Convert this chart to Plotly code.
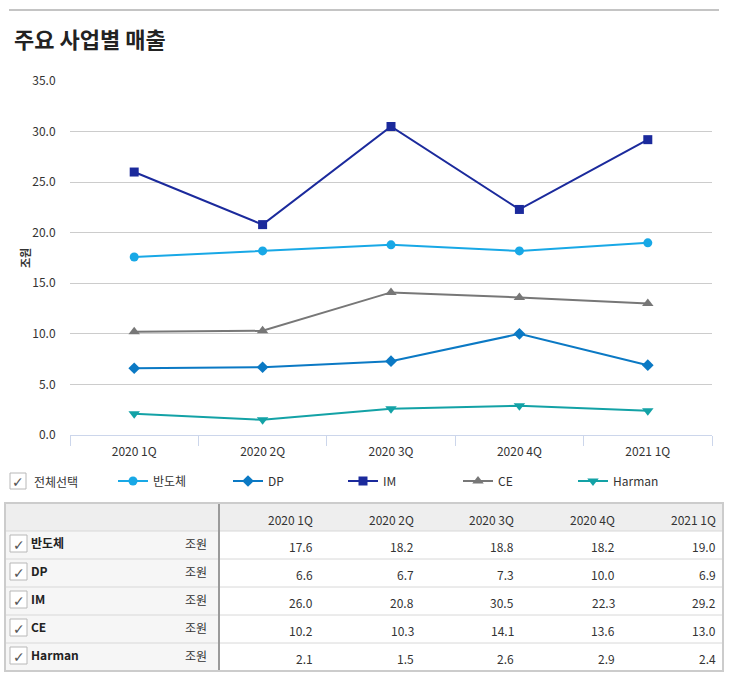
import plotly.graph_objects as go

# ---------------- data ----------------
title_text = "주요 사업별 매출"
quarters = ["2020 1Q", "2020 2Q", "2020 3Q", "2020 4Q", "2021 1Q"]
series_names = ["반도체", "DP", "IM", "CE", "Harman"]
semi = [17.6, 18.2, 18.8, 18.2, 19.0]
dp = [6.6, 6.7, 7.3, 10.0, 6.9]
im = [26.0, 20.8, 30.5, 22.3, 29.2]
ce = [10.2, 10.3, 14.1, 13.6, 13.0]
harman = [2.1, 1.5, 2.6, 2.9, 2.4]
unit = "조원"
select_all = "전체선택"
y_ticks = [0, 5, 10, 15, 20, 25, 30, 35]

series_values = [semi, dp, im, ce, harman]
colors = ["#18a8e6", "#0b79c4", "#1b2a9c", "#777777", "#13a2a6"]
symbols = ["circle", "diamond", "square", "triangle-up", "triangle-down"]
msizes = [9, 9, 9, 10, 10]

W, H = 735, 680
FONT = "Noto Sans CJK KR, Noto Sans, sans-serif"


def px(x):
    return x / W


def py(y):
    return 1 - y / H


fig = go.Figure()
for name, vals, c, s, ms in zip(series_names, series_values, colors, symbols, msizes):
    fig.add_trace(go.Scatter(
        x=quarters, y=vals, name=name, mode="lines+markers",
        line=dict(color=c, width=2),
        marker=dict(color=c, symbol=s, size=ms),
        cliponaxis=False,
    ))

shapes = []
annotations = []

# top rule
shapes.append(dict(type="line", xref="paper", yref="paper",
                   x0=px(9), x1=px(719), y0=py(10), y1=py(10),
                   line=dict(color="#c4c4c4", width=2)))

# title
annotations.append(dict(text="<b>" + title_text + "</b>", xref="paper", yref="paper",
                        x=px(12), y=py(38), xanchor="left", yanchor="middle",
                        showarrow=False, font=dict(size=22, color="#222", family=FONT)))

# y axis title
annotations.append(dict(text="<b>" + unit + "</b>", xref="paper", yref="paper",
                        x=px(25), y=py(258), xanchor="center", yanchor="middle",
                        textangle=-90, showarrow=False,
                        font=dict(size=11, color="#333", family=FONT)))


def checkbox(x0, y0, size=16):
    shapes.append(dict(type="rect", xref="paper", yref="paper",
                       x0=px(x0), x1=px(x0 + size), y0=py(y0), y1=py(y0 + size),
                       line=dict(color="#b8b8b8", width=1), fillcolor="white"))
    annotations.append(dict(text="✓", xref="paper", yref="paper",
                            x=px(x0 + size / 2), y=py(y0 + size / 2 + 1),
                            xanchor="center", yanchor="middle", showarrow=False,
                            font=dict(size=14, color="#555", family="DejaVu Sans")))


# legend "select all"
checkbox(10, 473)
annotations.append(dict(text=select_all, xref="paper", yref="paper",
                        x=px(32), y=py(481), xanchor="left", yanchor="middle",
                        showarrow=False, font=dict(size=12, color="#333", family=FONT)))

# ---------------- table ----------------
T_LEFT, T_RIGHT = 5, 723
T_TOP = 503
ROW_H = 28
DIV_X = 219
n_rows = len(series_names)
T_BOT = T_TOP + ROW_H * (n_rows + 1)
col_w = (T_RIGHT - DIV_X) / len(quarters)

shapes.append(dict(type="rect", xref="paper", yref="paper",
                   x0=px(T_LEFT), x1=px(T_RIGHT), y0=py(T_TOP), y1=py(T_TOP + ROW_H),
                   line=dict(width=0), fillcolor="#eeeeee", layer="below"))
shapes.append(dict(type="rect", xref="paper", yref="paper",
                   x0=px(T_LEFT), x1=px(DIV_X), y0=py(T_TOP + ROW_H), y1=py(T_BOT),
                   line=dict(width=0), fillcolor="#f6f6f6", layer="below"))
for i in range(1, n_rows + 1):
    yy = T_TOP + ROW_H * i
    shapes.append(dict(type="line", xref="paper", yref="paper",
                       x0=px(T_LEFT), x1=px(T_RIGHT), y0=py(yy), y1=py(yy),
                       line=dict(color="#d8d8d8", width=1)))
shapes.append(dict(type="line", xref="paper", yref="paper",
                   x0=px(DIV_X), x1=px(DIV_X), y0=py(T_TOP), y1=py(T_BOT),
                   line=dict(color="#9a9a9a", width=2)))
shapes.append(dict(type="rect", xref="paper", yref="paper",
                   x0=px(T_LEFT), x1=px(T_RIGHT), y0=py(T_TOP), y1=py(T_BOT),
                   line=dict(color="#cccccc", width=2)))

for j, q in enumerate(quarters):
    xr = DIV_X + col_w * (j + 1) - 5
    annotations.append(dict(text=q, xref="paper", yref="paper",
                            x=px(xr), y=py(T_TOP + ROW_H / 2 + 2), xanchor="right", yanchor="middle",
                            showarrow=False, font=dict(size=12, color="#333", family=FONT)))

for i, (name, vals) in enumerate(zip(series_names, series_values)):
    ytop = T_TOP + ROW_H * (i + 1)
    yc = ytop + ROW_H / 2
    checkbox(10, ytop + 4, 17)
    annotations.append(dict(text="<b>" + name + "</b>", xref="paper", yref="paper",
                            x=px(29), y=py(yc - 3), xanchor="left", yanchor="middle",
                            showarrow=False, font=dict(size=12, color="#222", family=FONT)))
    annotations.append(dict(text=unit, xref="paper", yref="paper",
                            x=px(209), y=py(yc - 2), xanchor="right", yanchor="middle",
                            showarrow=False, font=dict(size=12, color="#333", family=FONT)))
    for j, v in enumerate(vals):
        xr = DIV_X + col_w * (j + 1) - 5
        annotations.append(dict(text=f"{v:.1f}", xref="paper", yref="paper",
                                x=px(xr), y=py(yc + 1), xanchor="right", yanchor="middle",
                                showarrow=False, font=dict(size=12, color="#333", family=FONT)))

fig.update_layout(
    template="none",
    width=W, height=H, autosize=False,
    margin=dict(l=0, r=0, t=0, b=0, pad=0, autoexpand=False),
    paper_bgcolor="white", plot_bgcolor="white",
    font=dict(family=FONT, size=12, color="#333"),
    shapes=shapes, annotations=annotations,
    showlegend=True,
    legend=dict(orientation="h", x=px(113), y=py(481), xanchor="left", yanchor="middle",
                entrywidth=70, entrywidthmode="pixels",
                font=dict(size=12, color="#333", family=FONT),
                bgcolor="rgba(0,0,0,0)", itemclick=False, itemdoubleclick=False),
    xaxis=dict(domain=[px(70), px(712)], type="category", range=[-0.5, 4.5],
               showline=True, linecolor="#ccd6eb", linewidth=1, automargin=False,
               ticks="outside", tickson="boundaries", ticklen=10, tickcolor="#ccd6eb",
               ticklabelstandoff=6,
               showgrid=False, zeroline=False, anchor="y",
               tickfont=dict(size=12, color="#333"), fixedrange=True),
    yaxis=dict(domain=[py(435), py(81)], range=[0, 35], tickvals=y_ticks, automargin=False,
               tickformat=".1f", showgrid=True, gridcolor="#cccccc", gridwidth=1,
               zeroline=False, showline=False,
               ticks="outside", ticklen=11, tickcolor="rgba(0,0,0,0)",
               tickfont=dict(size=12, color="#333"), fixedrange=True),
)

fig.write_html("out.html", config={"displayModeBar": False},
               post_script="document.body.style.margin='0';")
